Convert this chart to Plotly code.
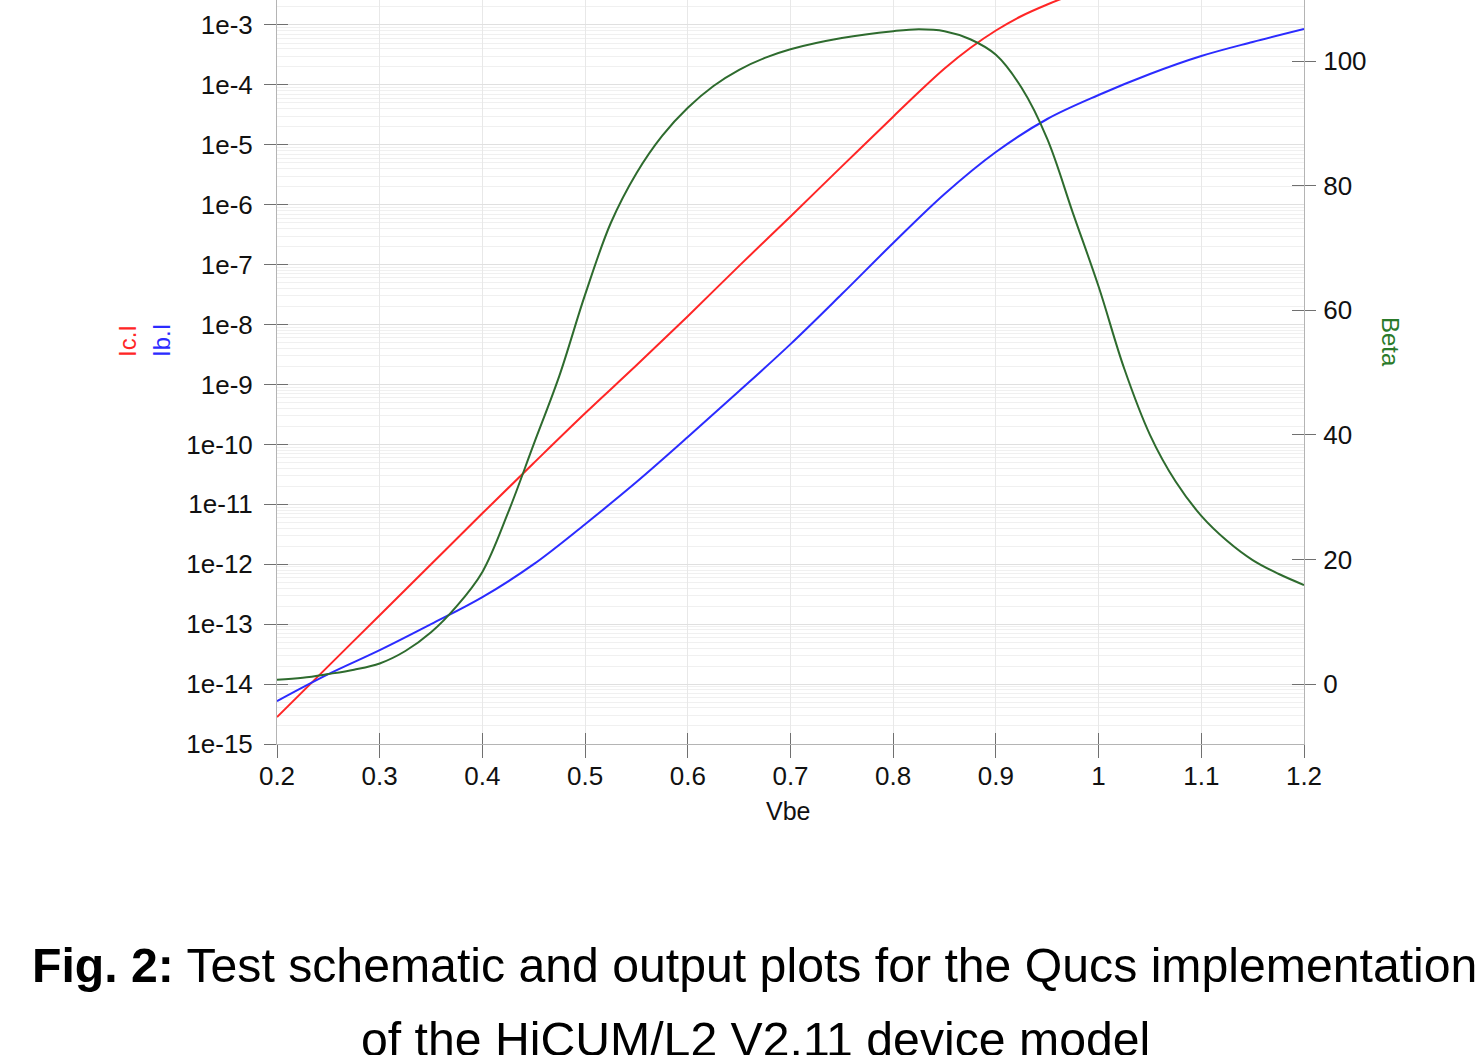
import plotly.graph_objects as go

# ---------------- data ----------------
vbe_ic = [0.20, 0.25, 0.30, 0.35, 0.40, 0.45, 0.50, 0.55, 0.60, 0.65, 0.70,
          0.75, 0.80, 0.825, 0.85, 0.875, 0.90, 0.925, 0.95, 0.975, 1.00,
          1.05, 1.10, 1.15, 1.20]
log_ic = [-14.55, -13.70, -12.85, -12.00, -11.15, -10.31, -9.48, -8.68, -7.86,
          -7.02, -6.195, -5.36, -4.53, -4.119, -3.726, -3.384, -3.092, -2.850,
          -2.658, -2.491, -2.341, -2.082, -1.865, -1.681, -1.497]

vbe_ib = [0.20, 0.25, 0.30, 0.35, 0.40, 0.45, 0.50, 0.55, 0.60, 0.65, 0.70,
          0.75, 0.80, 0.85, 0.90, 0.95, 1.00, 1.05, 1.10, 1.15, 1.20]
log_ib = [-14.285, -13.835, -13.434, -13.0, -12.549, -11.998, -11.331, -10.629,
          -9.878, -9.110, -8.326, -7.491, -6.639, -5.821, -5.120, -4.569, -4.169,
          -3.818, -3.518, -3.284, -3.067]

vbe_beta = [0.200, 0.225, 0.250, 0.275, 0.300, 0.325, 0.350, 0.375, 0.400,
            0.425, 0.450, 0.475, 0.500, 0.525, 0.550, 0.575, 0.600, 0.625,
            0.650, 0.675, 0.700, 0.750, 0.800, 0.825, 0.850, 0.875, 0.900,
            0.925, 0.950, 0.975, 1.000, 1.025, 1.050, 1.075, 1.100, 1.125,
            1.150, 1.175, 1.200]
beta = [0.7, 1.0, 1.6, 2.3, 3.3, 5.3, 8.3, 12.5, 18.0, 27.5, 38.5, 49.5, 62.5,
        74.0, 82.0, 88.0, 92.5, 96.0, 98.6, 100.5, 101.9, 103.7, 104.8, 105.1,
        104.8, 103.5, 101.0, 95.7, 87.5, 75.6, 63.8, 50.6, 40.0, 32.5, 27.0,
        23.0, 19.9, 17.7, 15.9]

ic = [10 ** v for v in log_ic]
ib = [10 ** v for v in log_ib]

x_ticks = [0.2, 0.3, 0.4, 0.5, 0.6, 0.7, 0.8, 0.9, 1.0, 1.1, 1.2]
x_ticktext = ["0.2", "0.3", "0.4", "0.5", "0.6", "0.7", "0.8", "0.9", "1", "1.1", "1.2"]
y_exps = list(range(-15, -2))
y_ticks = [10.0 ** e for e in y_exps]
y_ticktext = ["1e%d" % e for e in y_exps]
y_minor = [m * 10.0 ** e for e in range(-15, -2) for m in range(2, 10)]
b_ticks = [0, 20, 40, 60, 80, 100]

# ---------------- styling ----------------
FONT = "Liberation Sans, Arial, Helvetica, sans-serif"
RED = "#ff2626"
BLUE = "#2b2bff"
GREEN = "#2e6b2e"
LINE_C = "#b4b4b4"
TICK_C = "#707070"

X_RANGE = [0.2, 1.2]
Y_RANGE = [-15, -2.583]
B_RANGE = [-9.63, 109.8]

fig = go.Figure()
fig.add_trace(go.Scatter(x=vbe_ic, y=ic, mode="lines",
                         line=dict(color=RED, width=2, shape="spline", smoothing=1.0),
                         name="Ic.I", showlegend=False))
fig.add_trace(go.Scatter(x=vbe_ib, y=ib, mode="lines",
                         line=dict(color=BLUE, width=2, shape="spline", smoothing=1.0),
                         name="Ib.I", showlegend=False))
fig.add_trace(go.Scatter(x=vbe_beta, y=beta, mode="lines", yaxis="y2",
                         line=dict(color=GREEN, width=2, shape="spline", smoothing=1.0),
                         name="Beta", showlegend=False))
# empty helper traces so the inside-tick overlay axes are drawn
fig.add_trace(go.Scatter(x=[], y=[], xaxis="x2", yaxis="y3", showlegend=False, hoverinfo="skip"))
fig.add_trace(go.Scatter(x=[], y=[], xaxis="x2", yaxis="y4", showlegend=False, hoverinfo="skip"))

tickfont = dict(family=FONT, size=26, color="#111111")

fig.update_layout(
    width=1476, height=1055,
    paper_bgcolor="white", plot_bgcolor="white",
    margin=dict(l=277, r=172, t=0, b=311, pad=0),
    showlegend=False,
    xaxis=dict(range=X_RANGE, tickvals=x_ticks, ticktext=x_ticktext, ticks="outside", ticklen=13,
               tickcolor=TICK_C, tickwidth=1, showline=True, linecolor=LINE_C, linewidth=1,
               showgrid=True, gridcolor="#e8e8e8", gridwidth=1, zeroline=False,
               tickfont=tickfont, ticklabelstandoff=-4, anchor="y"),
    xaxis2=dict(range=X_RANGE, overlaying="x", anchor="y", side="bottom", tickvals=x_ticks,
                ticks="inside", ticklen=11, tickcolor=TICK_C, showticklabels=False,
                showgrid=False, showline=False, zeroline=False),
    yaxis=dict(type="log", range=Y_RANGE, tickvals=y_ticks, ticktext=y_ticktext, ticks="outside",
               ticklen=12, tickcolor=TICK_C, showline=True, linecolor=LINE_C, linewidth=1,
               showgrid=True, gridcolor="#e0e0e0", gridwidth=1, zeroline=False, tickfont=tickfont,
               ticklabelstandoff=6,
               minor=dict(tickvals=y_minor, showgrid=True, gridcolor="#f0f0f0", gridwidth=1, ticks=""),
               anchor="x"),
    yaxis3=dict(type="log", range=Y_RANGE, overlaying="y", side="left", anchor="x", tickvals=y_ticks,
                ticks="inside", ticklen=11, tickcolor=TICK_C, showticklabels=False,
                showgrid=False, showline=False, zeroline=False),
    yaxis2=dict(range=B_RANGE, overlaying="y", side="right", anchor="x", tickvals=b_ticks,
                ticks="outside", ticklen=11, tickcolor=TICK_C, showline=True, linecolor=LINE_C,
                linewidth=1, showgrid=False, zeroline=False, tickfont=tickfont, ticklabelstandoff=2),
    yaxis4=dict(range=B_RANGE, overlaying="y", side="right", anchor="x", tickvals=b_ticks,
                ticks="inside", ticklen=12, tickcolor=TICK_C, showticklabels=False,
                showgrid=False, showline=False, zeroline=False),
)

PW = 1027.0
PH = 744.0


def px_x(p):
    return (p - 277) / PW


def px_y(p):
    return (PH - p) / PH


ann = [
    dict(text="Vbe", x=px_x(788), y=px_y(811), font=dict(family=FONT, size=25, color="#111111")),
    dict(text="Ic.I", x=px_x(127), y=px_y(341), textangle=-90, font=dict(family=FONT, size=24, color=RED)),
    dict(text="Ib.I", x=px_x(161), y=px_y(341), textangle=-90, font=dict(family=FONT, size=24, color=BLUE)),
    dict(text="Beta", x=px_x(1391), y=px_y(342), textangle=90, font=dict(family=FONT, size=24, color="#2a7a2a")),
    dict(text="<b>Fig. 2:</b> Test schematic and output plots for the Qucs implementation",
         x=px_x(754), y=px_y(965), font=dict(family=FONT, size=48.2, color="black")),
    dict(text="of the HiCUM/L2 V2.11 device model",
         x=px_x(755), y=px_y(1039), font=dict(family=FONT, size=48.2, color="black")),
]
for a in ann:
    a.update(xref="paper", yref="paper", showarrow=False, xanchor="center", yanchor="middle")
fig.update_layout(annotations=ann)

fig.write_html("out.html")
